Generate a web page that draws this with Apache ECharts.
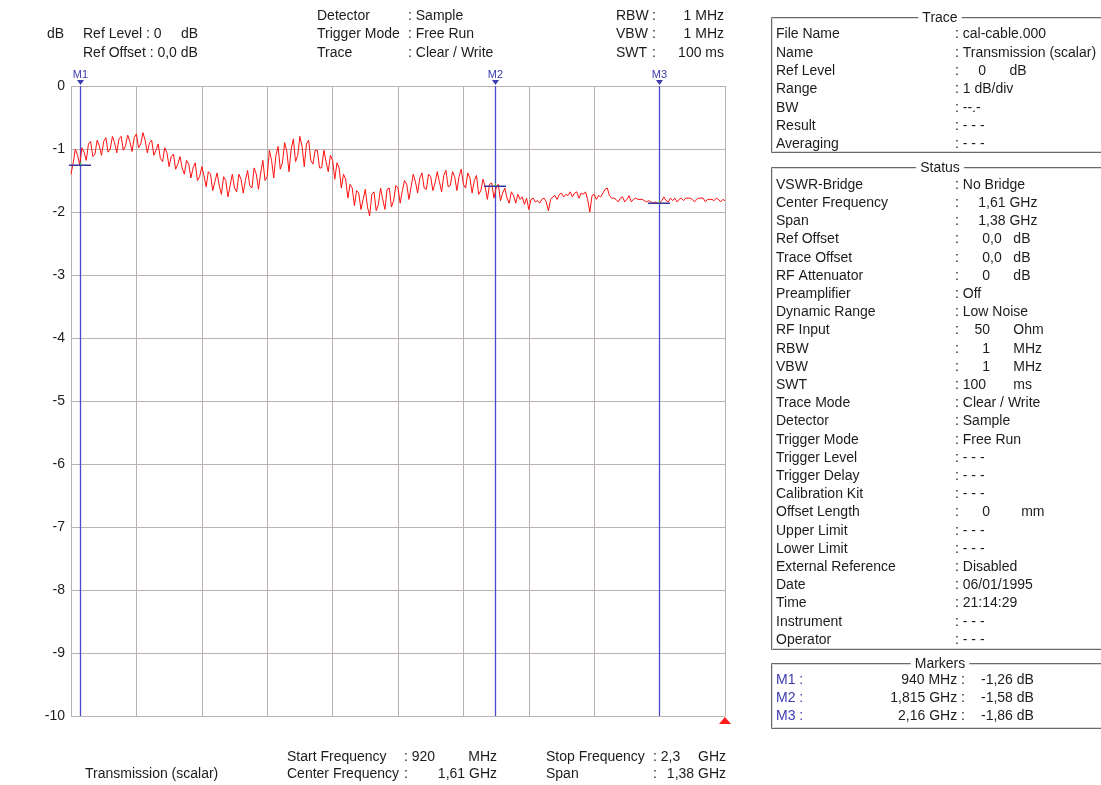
<!DOCTYPE html>
<html>
<head>
<meta charset="utf-8">
<script src="https://cdn.jsdelivr.net/npm/echarts@6/dist/echarts.min.js"></script>
<style>
  html, body { margin: 0; padding: 0; background: #ffffff; }
  #chart { width: 1101px; height: 785px; }
</style>
</head>
<body>
<div id="chart"></div>
<script>
// Sweep settings (MHz)
const startFreqMHz = 920;
const stopFreqMHz = 2300;

// Level axis ticks (dB)
const levelTicks = [0, -1, -2, -3, -4, -5, -6, -7, -8, -9, -10];

// Measured transmission trace, 301 sweep points (dB)
const traceDb = [
  -1.40, -1.22, -1.00, -1.10, -1.25, -0.98, -1.05, -1.18, -0.92, -0.88,
  -1.12, -1.08, -0.86, -0.95, -1.10, -0.88, -0.82, -1.05, -1.00, -0.80,
  -0.90, -1.06, -0.84, -0.80, -1.02, -0.95, -0.78, -0.88, -1.04, -0.82,
  -0.76, -0.98, -0.92, -0.74, -0.86, -1.06, -0.90, -0.86, -1.10, -1.02,
  -0.92, -1.15, -1.20, -0.98, -1.06, -1.28, -1.12, -1.08, -1.32, -1.24,
  -1.12, -1.30, -1.40, -1.18, -1.24, -1.46, -1.30, -1.22, -1.50, -1.44,
  -1.28, -1.42, -1.60, -1.36, -1.40, -1.66, -1.52, -1.38, -1.58, -1.72,
  -1.44, -1.50, -1.76, -1.58, -1.40, -1.62, -1.68, -1.40, -1.48, -1.70,
  -1.50, -1.34, -1.58, -1.62, -1.30, -1.40, -1.64, -1.38, -1.18, -1.50,
  -1.44, -1.02, -1.18, -1.46, -1.10, -0.96, -1.32, -1.22, -0.90, -1.04,
  -1.36, -1.00, -0.84, -1.20, -1.10, -0.80, -0.96, -1.28, -0.92, -0.86,
  -1.18, -1.24, -1.02, -1.02, -1.30, -1.30, -1.02, -1.20, -1.36, -1.10,
  -1.18, -1.48, -1.22, -1.30, -1.62, -1.40, -1.48, -1.78, -1.56, -1.62,
  -1.90, -1.66, -1.70, -1.96, -1.80, -1.64, -1.92, -2.06, -1.72, -1.68,
  -1.98, -1.88, -1.62, -1.80, -1.96, -1.64, -1.62, -1.92, -1.82, -1.58,
  -1.62, -1.86, -1.66, -1.50, -1.56, -1.80, -1.60, -1.40, -1.52, -1.70,
  -1.46, -1.38, -1.62, -1.64, -1.40, -1.44, -1.66, -1.54, -1.36, -1.52,
  -1.68, -1.42, -1.34, -1.60, -1.58, -1.36, -1.44, -1.66, -1.44, -1.32,
  -1.56, -1.62, -1.38, -1.46, -1.70, -1.50, -1.42, -1.72, -1.66, -1.48,
  -1.60, -1.80, -1.56, -1.54, -1.78, -1.62, -1.56, -1.82, -1.70, -1.62,
  -1.78, -1.86, -1.68, -1.74, -1.86, -1.72, -1.80, -1.76, -1.88, -1.78,
  -1.96, -1.80, -1.78, -1.84, -1.82, -1.86, -1.80, -1.78, -1.84, -1.98,
  -1.80, -1.76, -1.74, -1.80, -1.72, -1.70, -1.76, -1.72, -1.74, -1.68,
  -1.76, -1.70, -1.68, -1.78, -1.70, -1.72, -1.68, -1.80, -2.00, -1.74,
  -1.72, -1.80, -1.74, -1.76, -1.70, -1.64, -1.62, -1.74, -1.78, -1.78,
  -1.80, -1.84, -1.78, -1.76, -1.84, -1.80, -1.74, -1.84, -1.80, -1.78,
  -1.80, -1.80, -1.80, -1.82, -1.84, -1.82, -1.84, -1.86, -1.84, -1.86,
  -1.86, -1.82, -1.76, -1.82, -1.84, -1.78, -1.82, -1.78, -1.84, -1.80,
  -1.78, -1.82, -1.78, -1.78, -1.78, -1.80, -1.84, -1.80, -1.78, -1.78,
  -1.78, -1.84, -1.80, -1.80, -1.80, -1.82, -1.78, -1.80, -1.84, -1.80,
  -1.82
];

// Markers
const markerNames = ['M1', 'M2', 'M3'];
const markerFreqMHz = [940, 1815, 2160];
const markerDb = [-1.26, -1.58, -1.86];

// Header information
const headerLeft = [['Ref Level', ': 0     dB'], ['Ref Offset', ': 0,0 dB']];
const headerMid = [['Detector', ': Sample'], ['Trigger Mode', ': Free Run'], ['Trace', ': Clear / Write']];
const headerRight = [['RBW', '1 MHz'], ['VBW', '1 MHz'], ['SWT', '100 ms']];

// Footer information
const footerName = 'Transmission (scalar)';
const footerMid = [['Start Frequency', ': 920', 'MHz'], ['Center Frequency', ':', '1,61 GHz']];
const footerRight = [['Stop Frequency', ': 2,3', 'GHz'], ['Span', ':', '1,38 GHz']];

// Side panel tables
const traceRows = [
  ['File Name', ': cal-cable.000'],
  ['Name', ': Transmission (scalar)'],
  ['Ref Level', ':     0      dB'],
  ['Range', ': 1 dB/div'],
  ['BW', ': --.-'],
  ['Result', ': - - -'],
  ['Averaging', ': - - -']
];
const statusRows = [
  ['VSWR-Bridge', ': No Bridge'],
  ['Center Frequency', ':     1,61 GHz'],
  ['Span', ':     1,38 GHz'],
  ['Ref Offset', ':      0,0   dB'],
  ['Trace Offset', ':      0,0   dB'],
  ['RF Attenuator', ':      0      dB'],
  ['Preamplifier', ': Off'],
  ['Dynamic Range', ': Low Noise'],
  ['RF Input', ':    50      Ohm'],
  ['RBW', ':      1      MHz'],
  ['VBW', ':      1      MHz'],
  ['SWT', ': 100       ms'],
  ['Trace Mode', ': Clear / Write'],
  ['Detector', ': Sample'],
  ['Trigger Mode', ': Free Run'],
  ['Trigger Level', ': - - -'],
  ['Trigger Delay', ': - - -'],
  ['Calibration Kit', ': - - -'],
  ['Offset Length', ':      0        mm'],
  ['Upper Limit', ': - - -'],
  ['Lower Limit', ': - - -'],
  ['External Reference', ': Disabled'],
  ['Date', ': 06/01/1995'],
  ['Time', ': 21:14:29'],
  ['Instrument', ': - - -'],
  ['Operator', ': - - -']
];

const spanMHz = stopFreqMHz - startFreqMHz;
const stepMHz = spanMHz / (traceDb.length - 1);
// x values are offsets from the start frequency so the axis starts at 0
const traceData = traceDb.map((v, i) => [i * stepMHz, v]);
const markerData = markerFreqMHz.map((f, i) => [f - startFreqMHz, markerDb[i]]);

function fmtFreq(f) {
  return f < 1000 ? f + ' MHz' : String(f / 1000).replace('.', ',') + ' GHz';
}
function fmtDb(v) {
  return v.toFixed(2).replace('.', ',') + ' dB';
}

const FONT = 'Liberation Sans';
const TXT = '#1c1c1c';
const MK = '#3c3cb0';
const MK_LINE = '#4a4ad0';

function txt(x, y, s, extra) {
  return {
    type: 'text', x: x, y: y, silent: true,
    style: Object.assign({ text: s, fill: TXT, fontFamily: FONT, fontSize: 14, verticalAlign: 'middle' }, extra || {})
  };
}

const graphics = [];
// header
graphics.push(txt(47, 34, 'dB'));
headerLeft.forEach((r, i) => graphics.push(txt(83, 34 + i * 19, r[0] + ' ' + r[1])));
headerMid.forEach((r, i) => {
  graphics.push(txt(317, 16 + i * 18.5, r[0]));
  graphics.push(txt(408, 16 + i * 18.5, r[1]));
});
headerRight.forEach((r, i) => {
  graphics.push(txt(616, 16 + i * 18.5, r[0]));
  graphics.push(txt(652, 16 + i * 18.5, ':'));
  graphics.push(txt(724, 16 + i * 18.5, r[1], { align: 'right' }));
});
// footer
graphics.push(txt(85, 774, footerName));
footerMid.forEach((r, i) => {
  graphics.push(txt(287, 757 + i * 17, r[0]));
  graphics.push(txt(404, 757 + i * 17, r[1]));
  graphics.push(txt(497, 757 + i * 17, r[2], { align: 'right' }));
});
footerRight.forEach((r, i) => {
  graphics.push(txt(546, 757 + i * 17, r[0]));
  graphics.push(txt(653, 757 + i * 17, r[1]));
  graphics.push(txt(726, 757 + i * 17, r[2], { align: 'right' }));
});
// reference level indicator
graphics.push({
  type: 'polygon', silent: true,
  shape: { points: [[719, 724], [731, 724], [725, 717]] },
  style: { fill: '#ff1a1a' }
});

// side panel group boxes
function groupBox(top, bottom, title) {
  graphics.push({
    type: 'rect', silent: true,
    shape: { x: 771.5, y: top + 0.5, width: 340, height: bottom - top },
    style: { fill: 'none', stroke: '#6a6a6a', lineWidth: 1 }
  });
  graphics.push({
    type: 'rect', silent: true,
    shape: { x: 772.5, y: top + 1.5, width: 340, height: bottom - top - 2 },
    style: { fill: 'none', stroke: '#d8d8d8', lineWidth: 1 }
  });
  graphics.push(txt(940, top + 1, title, { align: 'center', backgroundColor: '#ffffff', padding: [0, 4, 0, 4] }));
}
groupBox(17, 152, 'Trace');
groupBox(167, 649, 'Status');
groupBox(663, 728, 'Markers');

traceRows.forEach((r, i) => {
  graphics.push(txt(776, 34.5 + i * 18.3, r[0]));
  graphics.push(txt(955, 34.5 + i * 18.3, r[1]));
});
statusRows.forEach((r, i) => {
  graphics.push(txt(776, 185 + i * 18.2, r[0]));
  graphics.push(txt(955, 185 + i * 18.2, r[1]));
});
markerNames.forEach((n, i) => {
  const y = 680.5 + i * 18;
  graphics.push(txt(776, y, n + ' :', { fill: MK }));
  graphics.push(txt(965, y, fmtFreq(markerFreqMHz[i]) + ' :', { align: 'right' }));
  graphics.push(txt(981, y, fmtDb(markerDb[i])));
});

const chart = echarts.init(document.getElementById('chart'), null, { renderer: 'canvas' });
chart.setOption({
  backgroundColor: '#ffffff',
  animation: false,
  grid: { left: 71, top: 86, width: 654, height: 630, containLabel: false },
  xAxis: {
    type: 'value', min: 0, max: spanMHz, interval: spanMHz / 10,
    axisLine: { show: false }, axisTick: { show: false }, axisLabel: { show: false },
    splitLine: { show: true, lineStyle: { color: '#b9b2ae', width: 1 } }
  },
  yAxis: {
    type: 'value', min: -10, max: 0, interval: 1,
    axisLine: { show: false }, axisTick: { show: false },
    axisLabel: {
      margin: 6, color: TXT, fontFamily: FONT, fontSize: 14,
      formatter: (v) => (levelTicks.indexOf(v) >= 0 ? String(v) : '')
    },
    splitLine: { show: true, lineStyle: { color: '#b9b2ae', width: 1 } }
  },
  series: [
    {
      type: 'custom', name: 'markers', z: 3, clip: false,
      itemStyle: { color: MK_LINE },
      data: markerData,
      renderItem: function (params, api) {
        const x = api.value(0);
        const top = api.coord([x, 0]);
        const bottom = api.coord([x, -10]);
        const px = Math.round(top[0]) + 0.5;
        return {
          type: 'group',
          children: [
            { type: 'line', shape: { x1: px, y1: top[1], x2: px, y2: bottom[1] }, style: { stroke: MK_LINE, lineWidth: 1.3 } },
            { type: 'polygon', shape: { points: [[px - 3.5, top[1] - 6], [px + 3.5, top[1] - 6], [px, top[1] - 1]] }, style: { fill: MK, stroke: null } },
            { type: 'text', x: px, y: top[1] - 11, style: { text: markerNames[params.dataIndex], align: 'center', verticalAlign: 'middle', fill: MK, fontFamily: FONT, fontSize: 11 } }
          ]
        };
      }
    },
    {
      type: 'line', name: 'Transmission', z: 4,
      data: traceData, showSymbol: false, smooth: false,
      lineStyle: { color: '#ff1010', width: 1 }
    },
    {
      type: 'custom', name: 'marker levels', z: 5, clip: false,
      itemStyle: { color: '#34349a' },
      data: markerData,
      renderItem: function (params, api) {
        const pt = api.coord([api.value(0), api.value(1)]);
        const px = Math.round(pt[0]);
        const py = Math.round(pt[1]);
        return {
          type: 'group',
          children: [
            { type: 'rect', shape: { x: px - 11, y: py - 0.5, width: 22, height: 1.5 }, style: { fill: '#34349a', stroke: null } },
            { type: 'rect', shape: { x: px, y: py - 3, width: 1, height: 3 }, style: { fill: '#2fae3a', stroke: null } }
          ]
        };
      }
    }
  ],
  graphic: graphics
});
</script>
</body>
</html>
